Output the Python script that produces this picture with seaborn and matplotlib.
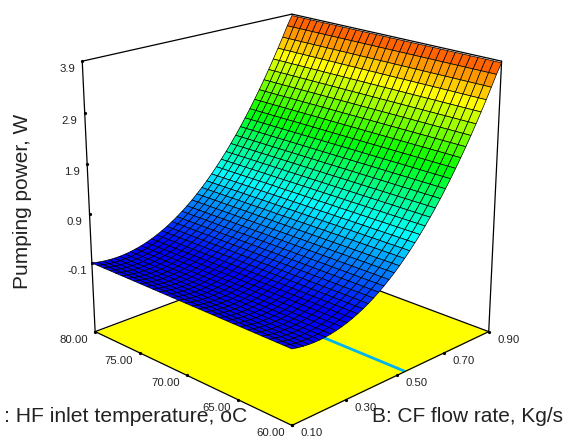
import numpy as np
import matplotlib
matplotlib.use("Agg")
import matplotlib.pyplot as plt
from matplotlib.transforms import Bbox
from mpl_toolkits.mplot3d import proj3d
import seaborn as sns

# Pumping power read along the CF flow rate axis (surface is flat along HF temp)
power = [-0.100, -0.124, -0.142, -0.153, -0.158, -0.157, -0.149, -0.135, -0.114, -0.087,
         -0.054, -0.014, 0.032, 0.084, 0.142, 0.208, 0.279, 0.357, 0.441, 0.531,
         0.628, 0.731, 0.841, 0.957, 1.079, 1.208, 1.342, 1.484, 1.631, 1.786,
         1.946, 2.113, 2.286, 2.465, 2.651, 2.844, 3.042, 3.247, 3.458, 3.676, 3.87]
flow_ticks = [0.10, 0.30, 0.50, 0.70, 0.90]
temp_ticks = [60.00, 65.00, 70.00, 75.00, 80.00]
power_ticks = [-0.1, 0.9, 1.9, 2.9, 3.9]
contour_flow = 0.535
floor_z = -1.55

sns.set_theme(style="white")
plt.rcParams['font.family'] = ['Liberation Sans', 'DejaVu Sans']

fig = plt.figure(figsize=(5.63, 4.41), dpi=100)
ax = fig.add_axes([44 / 563, -7.6 / 441, 482.8 / 563, 482.8 / 441],
                  projection='3d', computed_zorder=False)
ax.set_proj_type('persp', focal_length=0.588)
ax.view_init(elev=19.8, azim=-135)
ax.set_box_aspect((1, 1, 1))
ax.set_axis_off()
ax.patch.set_alpha(0)

b0, b1 = flow_ticks[0], flow_ticks[-1]
a0, a1 = temp_ticks[0], temp_ticks[-1]
ax.set_xlim(b0, b1, view_margin=0)
ax.set_ylim(a0, a1, view_margin=0)
ax.set_zlim(floor_z, power_ticks[-1], view_margin=0)

flow_grid = np.linspace(b0, b1, len(power))
temp_grid = np.linspace(a0, a1, 31)
B, A = np.meshgrid(flow_grid, temp_grid)
Z = np.tile(power, (len(temp_grid), 1))

# Floor with the contour line on it
ax.plot_surface(np.array([[b0, b1], [b0, b1]]), np.array([[a0, a0], [a1, a1]]),
                np.full((2, 2), floor_z), color='#ffff00', shade=False,
                linewidth=0, zorder=1)
ax.plot([contour_flow, contour_flow], [a0, a1], [floor_z, floor_z],
        color='#00b4f0', lw=2, zorder=2, solid_capstyle='butt')

# Box edges
top = power_ticks[-1]
edges = [
    ([b0, b1], [a0, a0], [floor_z, floor_z]),
    ([b0, b0], [a0, a1], [floor_z, floor_z]),
    ([b0, b1], [a1, a1], [floor_z, floor_z]),
    ([b1, b1], [a0, a1], [floor_z, floor_z]),
    ([b0, b0], [a1, a1], [floor_z, top]),
    ([b1, b1], [a0, a0], [floor_z, top]),
    ([b0, b1], [a1, a1], [top, top]),
    ([b1, b1], [a0, a1], [top, top]),
]
for xs, ys, zs in edges:
    ax.plot(xs, ys, zs, color='black', lw=0.9, zorder=3)

# Tick stubs
ax.plot(flow_ticks, [a0] * 5, [floor_z] * 5, ls='', marker='o', ms=1.3, color='black', zorder=3)
ax.plot([b0] * 5, temp_ticks, [floor_z] * 5, ls='', marker='o', ms=1.3, color='black', zorder=3)
ax.plot([b0] * 5, [a1] * 5, power_ticks, ls='', marker='o', ms=1.3, color='black', zorder=3)

# Response surface
cmap = sns.blend_palette(['#0000ff', '#00ffff', '#00ff00', '#ffff00', '#ff0000'], as_cmap=True)
ax.plot_surface(B, A, Z, rstride=1, cstride=1, cmap=cmap, vmin=-0.03, vmax=4.2,
                shade=False, edgecolor='black', linewidth=0.5, zorder=4)


# Tick labels, shifted in pixels from where their tick lands on screen
def tick_label(x, y, z, text, dx, dy):
    px, py, _ = proj3d.proj_transform(x, y, z, ax.get_proj())
    ax.annotate(text, (px, py), xytext=(dx, dy), textcoords='offset pixels',
                ha='center', va='center', fontsize=8.2, color='#222222', zorder=5)


for v in flow_ticks:
    tick_label(v, a0, floor_z, '%.2f' % v, 20, -8)
for v in temp_ticks:
    tick_label(b0, v, floor_z, '%.2f' % v, -21, -8)
for v in power_ticks:
    tick_label(b0, a1, v, '%.1f' % v, -15, -8)

# Axis titles
fig.text(22 / 563, 1 - 201 / 441, 'Pumping power, W', rotation=90, ha='center', va='center',
         fontsize=15, color='#222222')
a_title = fig.text(247 / 563, 1 - 417 / 441, 'A: HF inlet temperature, oC', ha='right', va='center',
                   fontsize=15.2, color='#222222')
# The reference is cropped just before the colon
a_title.set_clip_box(Bbox([[4.5, 0], [563, 441]]))
a_title.set_clip_on(True)
fig.text(372 / 563, 1 - 417 / 441, 'B: CF flow rate, Kg/s', ha='left', va='center',
         fontsize=15, color='#222222')

fig.savefig('out.png', dpi=100)
plt.close(fig)
